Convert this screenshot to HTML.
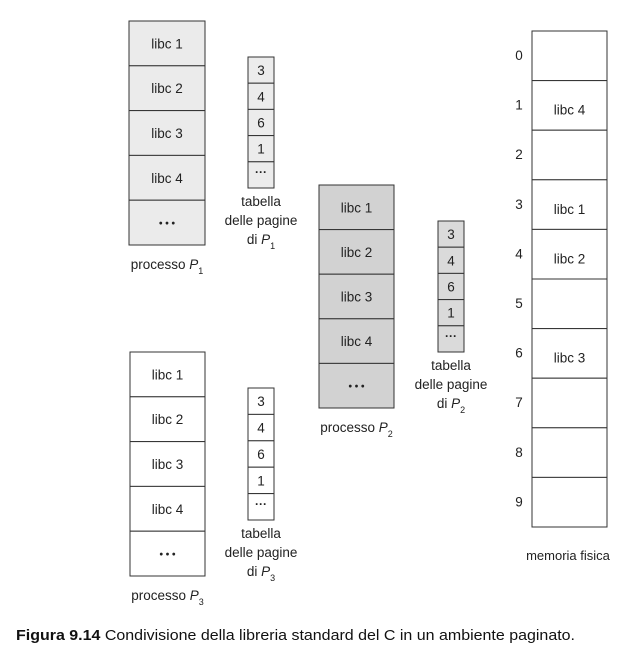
<!DOCTYPE html>
<html><head><meta charset="utf-8"><style>
html,body{margin:0;padding:0;background:#fff;}
svg{display:block;font-family:"Liberation Sans",Arial,sans-serif;}
</style></head><body>
<svg id="fig" width="621" height="663" viewBox="0 0 621 663"></svg>
<script>
const pageLabels = ["libc 1","libc 2","libc 3","libc 4","..."];
const pageTableEntries = ["3","4","6","1","..."];
const frameNumbers = [0,1,2,3,4,5,6,7,8,9];
const frameContents = ["","libc 4","","libc 1","libc 2","","libc 3","","",""];
const processNames = ["1","2","3"];

const NS="http://www.w3.org/2000/svg";
const svg=document.getElementById('fig');
function mk(tag,attrs,parent){const e=document.createElementNS(NS,tag);for(const k in attrs)e.setAttribute(k,attrs[k]);(parent||svg).appendChild(e);return e;}
function txt(x,y,s,size,parent,anchor,weight){const t=mk('text',{x:x,y:y,'font-size':size,'text-anchor':anchor||'middle',fill:'#222','font-weight':weight||'normal'},parent);t.textContent=s;return t;}

const procs=[
 {x:129,y:21,w:76,h:224,fill:'#ebebeb',tx:248,ty:57,th:131,tfill:'#ececec'},
 {x:319,y:185,w:75,h:223,fill:'#d2d2d2',tx:438,ty:221,th:131,tfill:'#dadada'},
 {x:130,y:352,w:75,h:224,fill:'#ffffff',tx:248,ty:388,th:132,tfill:'#ffffff'}
];
procs.forEach((p,i)=>{
  const g=mk('g',{});
  
  
  const rh=p.h/pageLabels.length;
  pageLabels.forEach((lab,j)=>{
    const r=mk('rect',{x:p.x,y:p.y+j*rh,width:p.w,height:rh,fill:p.fill,stroke:'#333','stroke-width':1},g);
    
    
    if(lab==='...') txt(p.x+p.w/2,p.y+j*rh+rh/2+4,'• • •',10,g,'middle','bold');
    else txt(p.x+p.w/2,p.y+j*rh+rh/2+5,lab,13.5,g);
  });
  const lt=mk('text',{x:p.x+p.w/2,y:p.y+p.h+24,'font-size':13.5,'text-anchor':'middle',fill:'#222'},g);
  lt.innerHTML='processo <tspan font-style="italic">P</tspan><tspan font-size="9" dy="5">'+processNames[i]+'</tspan>';
  
  
  // page table
  const tg=mk('g',{});
  
  
  const trh=p.th/pageTableEntries.length, tw=26;
  pageTableEntries.forEach((v,j)=>{
    const r=mk('rect',{x:p.tx,y:p.ty+j*trh,width:tw,height:trh,fill:p.tfill,stroke:'#333','stroke-width':1},tg);
    
    
    txt(p.tx+tw/2,p.ty+j*trh+trh/2+(v==='...'?1:5),v==='...'?'···':v,v==='...'?12:13.5,tg,'middle',v==='...'?'bold':'normal');
  });
  const cx=p.tx+tw/2, by=p.ty+p.th;
  txt(cx,by+18,'tabella',13.5,tg);
  txt(cx,by+37,'delle pagine',13.5,tg);
  const d=mk('text',{x:cx,y:by+56,'font-size':13.5,'text-anchor':'middle',fill:'#222'},tg);
  d.innerHTML='di <tspan font-style="italic">P</tspan><tspan font-size="9" dy="5">'+processNames[i]+'</tspan>';
});

// physical memory
const mg=mk('g',{});


const mx=532,my=31,mw=75,mh=496,frh=mh/frameNumbers.length;
frameNumbers.forEach((n,j)=>{
  const r=mk('rect',{x:mx,y:my+j*frh,width:mw,height:frh,fill:'#fff',stroke:'#333','stroke-width':1},mg);
  
  
  txt(519,my+j*frh+29,String(n),13.5,mg);
  if(frameContents[j]) txt(mx+mw/2,my+j*frh+34,frameContents[j],13.5,mg);
});
const ml=txt(568,560,'memoria fisica',13,mg);



// caption
const cap=mk('text',{x:16,y:640,'font-size':14.5,fill:'#111',textLength:559,lengthAdjust:'spacingAndGlyphs'});
cap.innerHTML='<tspan font-weight="bold">Figura 9.14</tspan> Condivisione della libreria standard del C in un ambiente paginato.';


</script>
</body></html>
